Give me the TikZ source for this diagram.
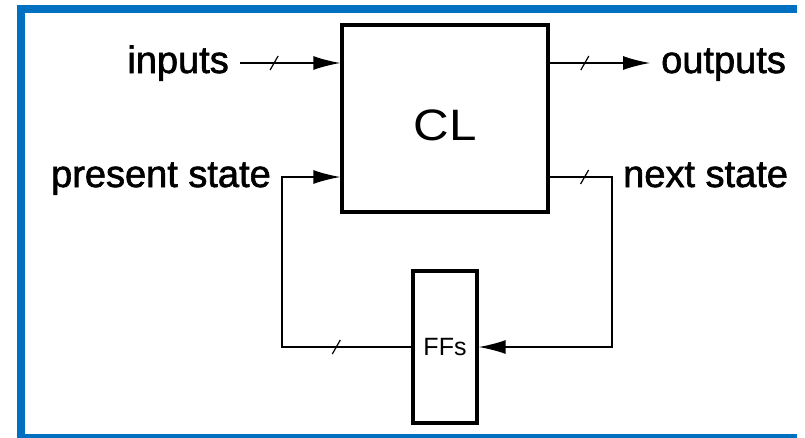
\documentclass[tikz,border=0pt]{standalone}
\usepackage{fontspec}
\setmainfont{Liberation Sans}
\newfontfamily\labelfont{Liberation Sans}[FakeBold=1.6]
\usetikzlibrary{arrows.meta}
\definecolor{frameblue}{RGB}{0,112,192}

\begin{document}
\begin{tikzpicture}[
    x=1pt, y=-1pt,
    block/.style={draw, line width=3.4pt, inner sep=0pt},
    lbl/.style={inner xsep=11pt, inner ysep=0pt, text height=27pt, text depth=7pt,
                font=\labelfont\fontsize{38}{40}\selectfont},
    wire/.style={line width=1.5pt},
    bus/.style={line width=1.2pt},
    >={Latex[length=27pt, width=14pt]}
]
    \useasboundingbox (0,0) rectangle (805,437);

    % --- blue frame (open on the right) ---
    \draw[frameblue, line width=8pt] (797,9) -- (21,9) -- (21,438) -- (797,438);

    % blocks
    \node[block, minimum width=206pt, minimum height=187pt, text height=44pt,
          font=\fontsize{44}{46}\selectfont] (cl) at (445,118.5) {\scalebox{1.12}[1]{CL}};
    \node[block, minimum width=64pt, minimum height=152pt,
          font=\fontsize{25}{27}\selectfont] (ff) at (445,347) {FFs};

    % labels
    \node[lbl, anchor=east] (in)  at (240,63)  {inputs};
    \node[lbl, anchor=east] (pst) at (282,177) {present state};
    \node[lbl, anchor=west] (out) at (650,63)  {outputs};
    \node[lbl, anchor=west] (nst) at (612,177) {next state};

    % --- inputs and outputs ---
    \draw[wire, ->] (in.east) -- coordinate[pos=0.34] (s1) (in.east -| cl.west);
    \draw[wire, ->] (cl.east |- out.west) -- coordinate[pos=0.35] (s2) (out.west);

    % --- state loop through the flip-flops ---
    \draw[wire, ->] (cl.east |- nst.west) -- coordinate[pos=0.56] (s3) (nst.west)
        -- (nst.west |- ff.east) -- (ff.east);
    \draw[wire, ->] (ff.west) -- coordinate[pos=0.58] (s4) (ff.west -| pst.east)
        -- (pst.east) -- (pst.east -| cl.west);

    % bus marks
    \foreach \s in {s1,s2,s3,s4}
        \draw[bus] ([shift={(-4,7)}]\s) -- ([shift={(4,-7)}]\s);
\end{tikzpicture}
\end{document}
